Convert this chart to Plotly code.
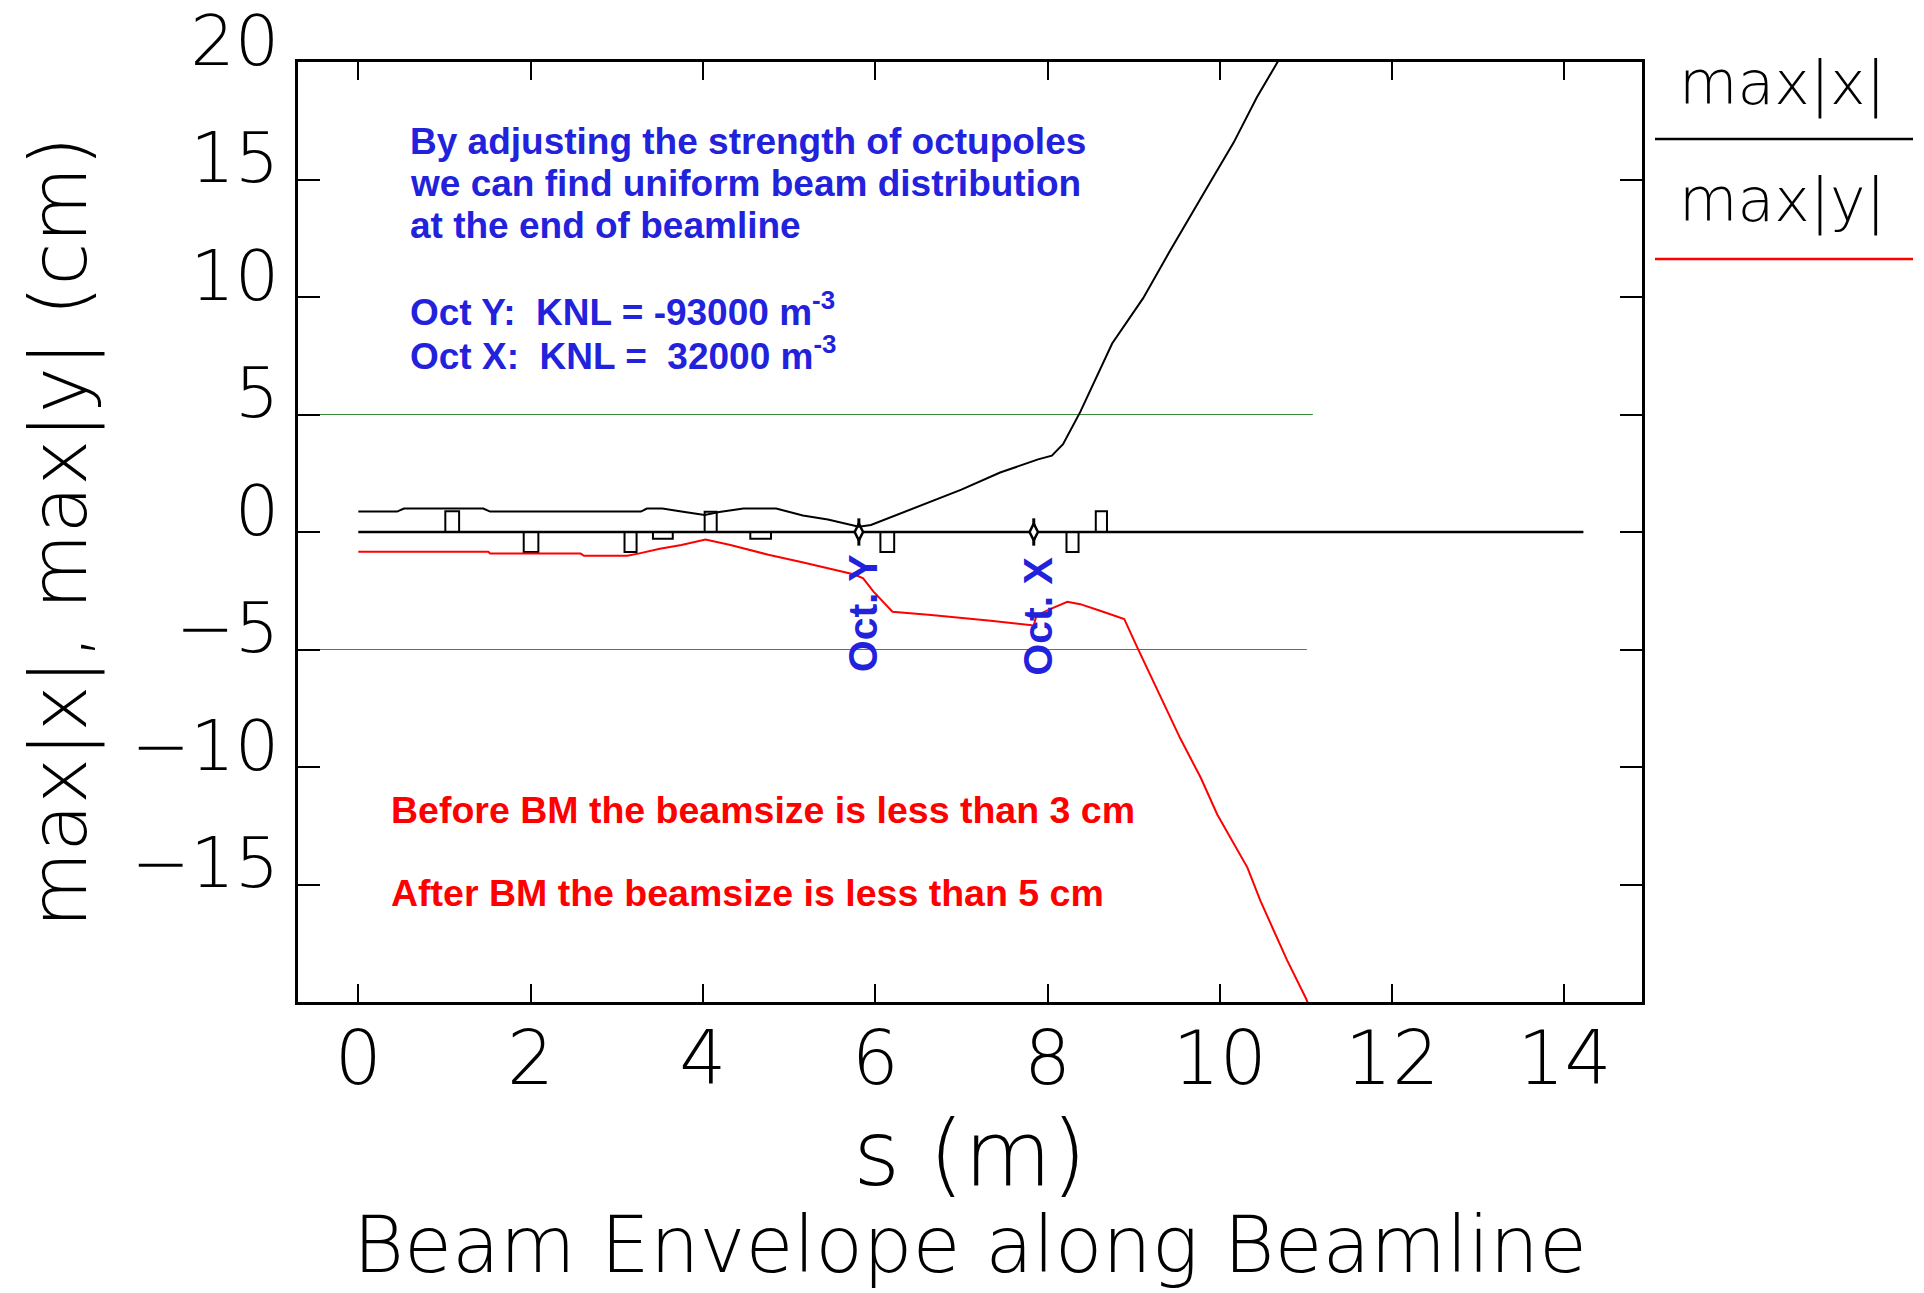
import plotly.graph_objects as go

# ---------------- data ----------------
# max|x| envelope (cm), plotted positive
sx = [0, 0.45, 0.53, 1.45, 1.53, 3.28, 3.35, 3.53, 3.75, 4.02, 4.19, 4.47, 4.85, 5.16, 5.45, 5.81,
      5.95, 7.0, 7.45, 7.89, 8.05, 8.18, 8.38, 8.75, 9.11, 9.41, 9.90, 10.16, 10.43, 10.65, 10.75]
max_x = [0.87, 0.87, 1.0, 1.0, 0.87, 0.87, 1.0, 1.0, 0.87, 0.72, 0.85, 1.0, 1.0, 0.70, 0.53, 0.22,
         0.30, 1.80, 2.53, 3.09, 3.25, 3.74, 5.11, 8.02, 9.95, 11.89, 14.96, 16.57, 18.5, 19.9, 20.5]

# max|y| envelope (cm), plotted negative
sy = [0, 1.51, 1.53, 2.58, 2.62, 3.12, 3.25, 3.50, 3.75, 4.03, 4.32, 4.76, 5.14, 5.45, 5.76, 5.86,
      5.98, 6.20, 6.65, 7.34, 7.84, 7.87, 8.03, 8.23, 8.38, 8.61, 8.89, 9.04, 9.27, 9.54, 9.78, 9.97,
      10.32, 10.47, 10.78, 11.0, 11.05]
max_y = [-0.84, -0.84, -0.92, -0.92, -1.01, -1.01, -0.92, -0.71, -0.55, -0.32, -0.55, -0.97, -1.28,
         -1.53, -1.81, -1.97, -2.54, -3.39, -3.53, -3.78, -3.98, -3.56, -3.28, -2.97, -3.07, -3.35,
         -3.70, -4.90, -6.66, -8.78, -10.47, -12.02, -14.28, -15.69, -18.22, -19.85, -20.3]

# beamline elements (quadrupoles etc.): start, end, height
elem_start = [1.01, 1.92, 3.09, 3.42, 4.02, 4.55, 6.06, 8.22, 8.56]
elem_end = [1.17, 2.09, 3.23, 3.65, 4.16, 4.79, 6.22, 8.36, 8.69]
elem_h = [0.88, -0.85, -0.85, -0.29, 0.86, -0.29, -0.85, -0.85, 0.88]

# octupoles
oct_s = [5.81, 7.84]
oct_names = ["Oct. Y", "Oct. X"]
oct_label_y = [-3.45, -3.6]
oct_half = 0.58

# beamline axis and aperture
beamline_s = [0, 14.22]
aperture = 5.0
aperture_end_top = 11.08
aperture_end_bot = 11.01

x_range = [-0.7, 14.9]
y_range = [-20, 20]
x_ticks = [0, 2, 4, 6, 8, 10, 12, 14]
y_ticks = [-15, -10, -5, 0, 5, 10, 15, 20]

blue_lines = ["By adjusting the strength of octupoles",
              "we can find uniform beam distribution",
              "at the end of beamline",
              "Oct Y:  KNL = -93000 m<sup>-3</sup>",
              "Oct X:  KNL =  32000 m<sup>-3</sup>"]
blue_y = [16.6, 14.82, 13.06, 9.45, 7.6]
red_lines = ["Before BM the beamsize is less than 3 cm",
             "After BM the beamsize is less than 5 cm"]
red_y = [-11.85, -15.35]

BLUE = "#2222dd"
RED = "#ff0000"
THIN = "DejaVu Sans"
TW = 200

# ---------------- figure ----------------
fig = go.Figure()

# aperture lines
fig.add_trace(go.Scatter(x=[x_range[0], aperture_end_top], y=[aperture, aperture], mode="lines",
                         line=dict(color="#3c8c3c", width=1.2), showlegend=False, hoverinfo="skip"))
fig.add_trace(go.Scatter(x=[x_range[0], aperture_end_bot], y=[-aperture, -aperture], mode="lines",
                         line=dict(color="#3c8c3c", width=1.2), showlegend=False, hoverinfo="skip"))

# beamline axis
fig.add_trace(go.Scatter(x=beamline_s, y=[0, 0], mode="lines",
                         line=dict(color="black", width=2.5), showlegend=False, hoverinfo="skip"))

# element boxes
bx, by = [], []
for a, b, h in zip(elem_start, elem_end, elem_h):
    bx += [a, a, b, b, a, None]
    by += [0, h, h, 0, 0, None]
fig.add_trace(go.Scatter(x=bx, y=by, mode="lines", line=dict(color="black", width=2),
                         showlegend=False, hoverinfo="skip"))

# octupoles
ox, oy = [], []
for s in oct_s:
    ox += [s, s, None]
    oy += [-oct_half, oct_half, None]
fig.add_trace(go.Scatter(x=ox, y=oy, mode="lines", line=dict(color="black", width=3),
                         showlegend=False, hoverinfo="skip"))
fig.add_trace(go.Scatter(x=oct_s, y=[0] * len(oct_s), mode="markers",
                         marker=dict(symbol="diamond-tall", size=12, color="white",
                                     line=dict(color="black", width=2.5)),
                         showlegend=False, hoverinfo="skip"))

# envelopes
fig.add_trace(go.Scatter(x=sx, y=max_x, mode="lines", name="max|x|",
                         line=dict(color="black", width=2), showlegend=False))
fig.add_trace(go.Scatter(x=sy, y=max_y, mode="lines", name="max|y|",
                         line=dict(color=RED, width=2), showlegend=False))

# text annotations
for t, y in zip(blue_lines, blue_y):
    fig.add_annotation(x=0.58, y=y, text=t, showarrow=False, xanchor="left", yanchor="middle",
                       font=dict(family="Liberation Sans", size=37, color=BLUE, weight="bold"))
for t, y in zip(red_lines, red_y):
    fig.add_annotation(x=0.36, y=y, text=t, showarrow=False, xanchor="left", yanchor="middle",
                       font=dict(family="Liberation Sans", size=37.5, color=RED, weight="bold"))
for s, name, yc in zip(oct_s, oct_names, oct_label_y):
    fig.add_annotation(x=s + 0.05, y=yc, text=name, showarrow=False, textangle=-90,
                       font=dict(family="Liberation Sans", size=41, color=BLUE, weight="bold"))

# manual legend (right of the frame)
L, T, W, H = 298, 62, 1344, 940
def px(xp):
    return (xp - L) / W
def py(yp):
    return (T + H - yp) / H

legend_items = [("max|x|", "black", 84, 139), ("max|y|", RED, 201, 259)]
for name, col, ty, ly in legend_items:
    fig.add_annotation(xref="paper", yref="paper", x=px(1782), y=py(ty), text=name, showarrow=False,
                       xanchor="center", yanchor="middle",
                       font=dict(family=THIN, size=60, color="black", weight=TW))
    fig.add_shape(type="line", xref="paper", yref="paper", x0=px(1655), x1=px(1913),
                  y0=py(ly), y1=py(ly), line=dict(color=col, width=2.5))

axis_common = dict(showline=True, linecolor="black", linewidth=2.5, mirror="allticks",
                   ticks="inside", tickcolor="black", tickwidth=2, showgrid=False,
                   zeroline=False, ticklabeloverflow="allow")

fig.update_xaxes(range=x_range, tickvals=x_ticks, ticklen=18,
                 tickfont=dict(family=THIN, size=74, color="black", weight=TW),
                 ticklabelstandoff=-10,
                 title=dict(text="s (m)", font=dict(family=THIN, size=90, color="black", weight=TW),
                            standoff=8),
                 **axis_common)
fig.update_yaxes(range=y_range, tickvals=y_ticks, ticklen=22,
                 tickfont=dict(family=THIN, size=70, color="black", weight=TW),
                 ticklabelshift=-22, ticklabelstandoff=2,
                 title=dict(text="max|x|, max|y| (cm)",
                            font=dict(family=THIN, size=78, color="black", weight=TW),
                            standoff=20),
                 **axis_common)

fig.update_layout(
    width=1924, height=1293,
    margin=dict(l=L, r=1924 - L - W, t=T, b=1293 - T - H, autoexpand=False),
    plot_bgcolor="white", paper_bgcolor="white",
    title=dict(text="Beam Envelope along Beamline", xref="paper", x=0.5, xanchor="center",
               yref="container", y=0.037, yanchor="middle",
               font=dict(family=THIN, size=78, color="black", weight=TW)),
    showlegend=False,
)

fig.write_html("out.html")
